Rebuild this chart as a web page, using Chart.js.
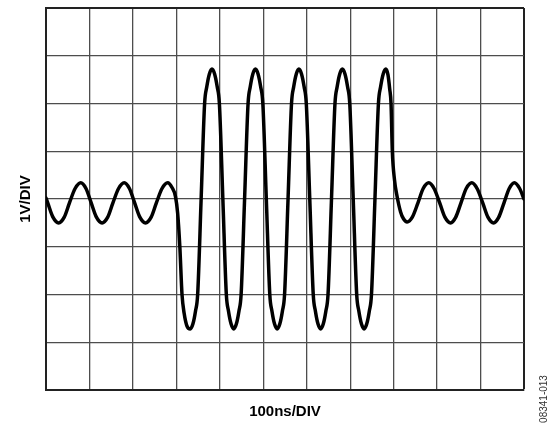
<!DOCTYPE html>
<html>
<head>
<meta charset="utf-8">
<script src="https://cdn.jsdelivr.net/npm/chart.js@4/dist/chart.umd.min.js"></script>
<style>
  html, body { margin: 0; padding: 0; background: #fff; }
  #wrap { width: 549px; height: 423px; position: relative; }
</style>
</head>
<body>
<div id="wrap"><canvas id="scope"></canvas></div>
<script>
// ringing before the burst (ns, V)
const preTime = [0, 4, 16, 29, 42, 54, 67, 80, 92, 104, 116, 129, 142, 154, 167, 180, 192, 204, 216, 229, 242, 254, 267, 280, 290, 298, 303, 308, 313, 318, 324];
const preVolts = [0.02, -0.08, -0.38, -0.50, -0.38, -0.08, 0.22, 0.34, 0.22, -0.08, -0.38, -0.50, -0.38, -0.08, 0.22, 0.34, 0.22, -0.08, -0.38, -0.50, -0.38, -0.08, 0.22, 0.34, 0.24, 0.05, -0.30, -1.00, -2.00, -2.40, -2.65];

// five full-swing pulses
const burstTime = [
  332, 338, 344, 349, 357, 365, 370, 376, 382, 388, 394, 399, 407, 415, 420, 426,
  432, 438, 444, 449, 457, 465, 470, 476, 482, 488, 494, 499, 507, 515, 520, 526,
  532, 538, 544, 549, 557, 565, 570, 576, 582, 588, 594, 599, 607, 615, 620, 626,
  632, 638, 644, 649, 657, 665, 670, 676, 682, 688, 694, 699, 707, 715, 720, 726,
  732, 738, 744, 749, 757, 765, 770, 776, 782
];
const burstVolts = [
  -2.72, -2.62, -2.35, -2.00, 0, 2.00, 2.35, 2.62, 2.72, 2.62, 2.35, 2.00, 0, -2.00, -2.35, -2.62,
  -2.72, -2.62, -2.35, -2.00, 0, 2.00, 2.35, 2.62, 2.72, 2.62, 2.35, 2.00, 0, -2.00, -2.35, -2.62,
  -2.72, -2.62, -2.35, -2.00, 0, 2.00, 2.35, 2.62, 2.72, 2.62, 2.35, 2.00, 0, -2.00, -2.35, -2.62,
  -2.72, -2.62, -2.35, -2.00, 0, 2.00, 2.35, 2.62, 2.72, 2.62, 2.35, 2.00, 0, -2.00, -2.35, -2.62,
  -2.72, -2.62, -2.35, -2.00, 0, 2.00, 2.35, 2.62, 2.72
];

// ringing after the burst
const postTime = [787, 791, 794, 797, 802, 807, 816, 823, 831, 843, 856, 868, 881, 893, 906, 918, 931, 943, 955, 967, 980, 992, 1005, 1017, 1030, 1042, 1054, 1066, 1078, 1090, 1100];
const postVolts = [2.60, 2.30, 2.00, 1.00, 0.40, 0.10, -0.27, -0.42, -0.48, -0.38, -0.08, 0.22, 0.34, 0.22, -0.08, -0.38, -0.50, -0.38, -0.08, 0.22, 0.34, 0.22, -0.08, -0.38, -0.50, -0.38, -0.08, 0.22, 0.34, 0.22, 0.00];

const xTitle = "100ns/DIV";
const yTitle = "1V/DIV";
const figureId = "08341-013";

const timeNs = preTime.concat(burstTime, postTime);
const volts = preVolts.concat(burstVolts, postVolts);
const trace = timeNs.map((t, i) => ({ x: t, y: volts[i] }));

const GRID = "#4d4d4d";
const FRAME = "#222";

// figure number printed sideways at the lower right
const figureLabel = {
  id: "figureLabel",
  afterDraw(chart) {
    const ctx = chart.ctx;
    ctx.save();
    ctx.translate(544, 399);
    ctx.rotate(-Math.PI / 2);
    ctx.font = "10px 'Liberation Sans', Arial, sans-serif";
    ctx.fillStyle = "#333";
    ctx.textAlign = "center";
    ctx.textBaseline = "middle";
    ctx.fillText(figureId, 0, 0);
    ctx.restore();
  }
};

new Chart(document.getElementById("scope").getContext("2d"), {
  type: "line",
  data: {
    datasets: [{
      data: trace,
      borderColor: "#000",
      borderWidth: 3.5,
      pointRadius: 0,
      cubicInterpolationMode: "monotone",
      borderCapStyle: "round",
      borderJoinStyle: "round",
      fill: false
    }]
  },
  options: {
    responsive: true,
    maintainAspectRatio: false,
    animation: false,
    events: [],
    layout: { padding: { left: 0, right: 25, top: 8, bottom: 0 } },
    plugins: { legend: { display: false }, tooltip: { enabled: false } },
    scales: {
      x: {
        type: "linear",
        min: 0,
        max: 1100,
        ticks: { display: false, stepSize: 100 },
        grid: {
          drawTicks: false,
          color: c => (c.tick && c.tick.value === 1100 ? FRAME : GRID),
          lineWidth: c => (c.tick && c.tick.value === 1100 ? 2 : 1.3)
        },
        border: { display: true, color: FRAME, width: 2 },
        title: {
          display: true,
          text: xTitle,
          color: "#000",
          font: { family: "'Liberation Sans', Arial, sans-serif", size: 15, weight: "bold" },
          padding: { top: 13, bottom: 2 }
        }
      },
      y: {
        type: "linear",
        min: -4,
        max: 4,
        ticks: { display: false, stepSize: 1 },
        grid: {
          drawTicks: false,
          color: c => (c.tick && c.tick.value === 4 ? FRAME : GRID),
          lineWidth: c => (c.tick && c.tick.value === 4 ? 2 : 1.3)
        },
        border: { display: true, color: FRAME, width: 2 },
        title: {
          display: true,
          text: yTitle,
          color: "#000",
          font: { family: "'Liberation Sans', Arial, sans-serif", size: 15, weight: "bold" },
          padding: { top: 17, bottom: 11 }
        }
      }
    }
  },
  plugins: [figureLabel]
});
</script>
</body>
</html>
